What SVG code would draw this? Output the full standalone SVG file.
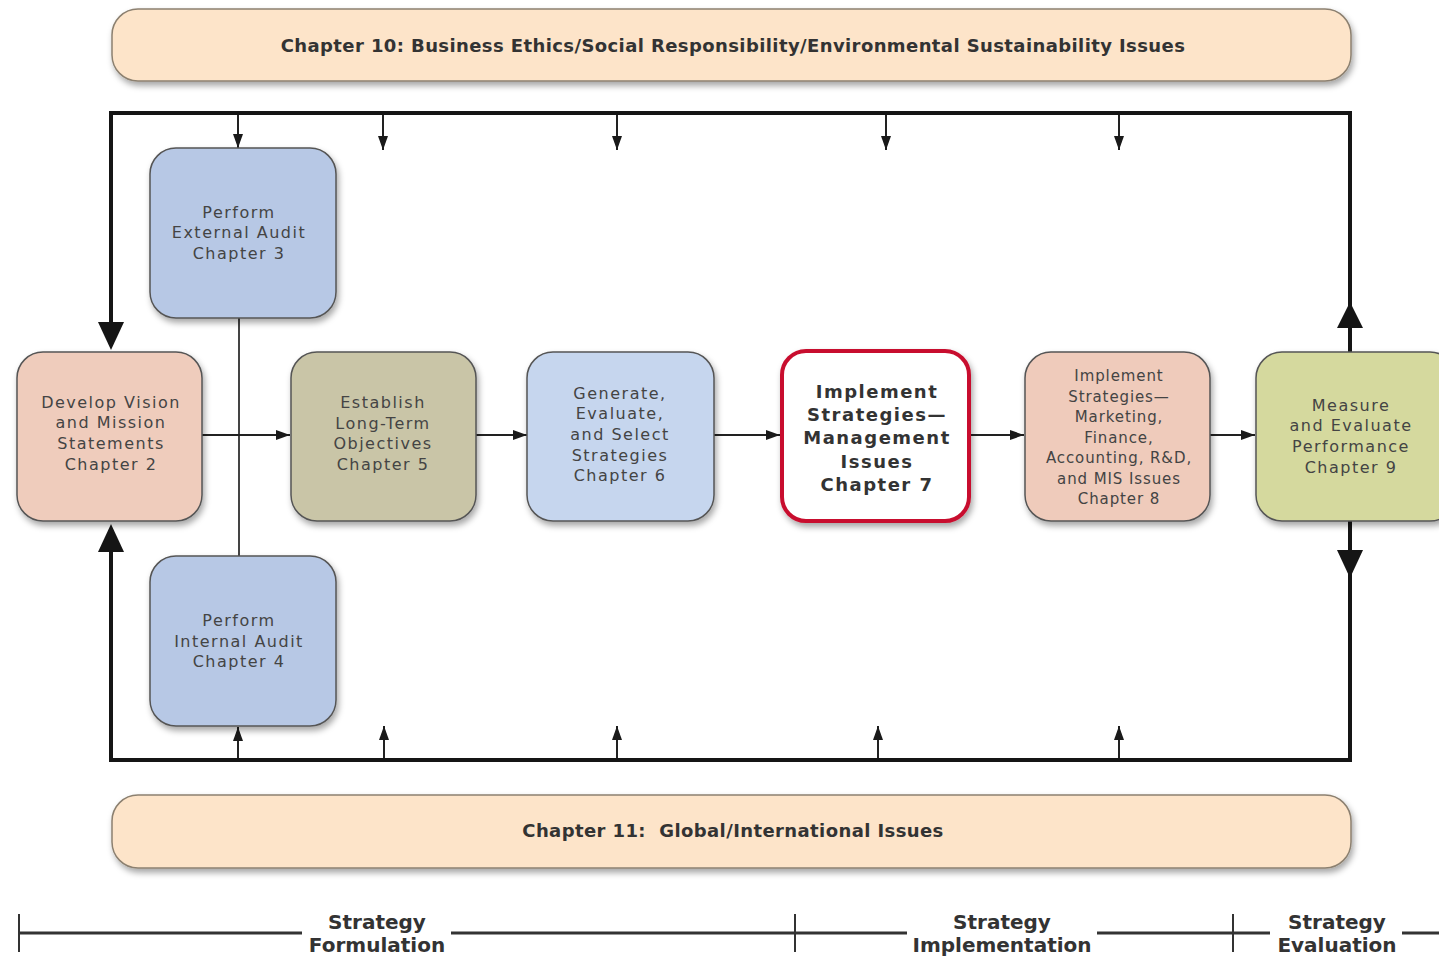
<svg xmlns="http://www.w3.org/2000/svg" width="1439" height="957" viewBox="0 0 1439 957">
<defs>
<filter id="sh" x="-10%" y="-10%" width="130%" height="140%">
<feDropShadow dx="2" dy="4" stdDeviation="3" flood-color="#000" flood-opacity="0.35"/>
</filter>
<marker id="ah" viewBox="0 0 14 10" refX="14" refY="5" markerWidth="14" markerHeight="10" markerUnits="userSpaceOnUse" orient="auto">
<path d="M0,0 L14,5 L0,10 z" fill="#1a1a1a"/>
</marker>
</defs>
<style>
.banner{fill:#FDE4C9;stroke:#8c8070;stroke-width:1.5;filter:url(#sh)}
.node{stroke:#555;stroke-width:1.5;filter:url(#sh)}
.bt{font-family:"DejaVu Sans",sans-serif;font-weight:bold;font-size:18px;fill:#333;text-anchor:middle;letter-spacing:0.4px}
.nt{font-family:"DejaVu Sans",sans-serif;font-size:16px;fill:#444;text-anchor:middle;letter-spacing:1.5px}
.mt{font-family:"DejaVu Sans",sans-serif;font-weight:bold;font-size:18px;fill:#333;text-anchor:middle;letter-spacing:1.5px}
.st{font-family:"DejaVu Sans",sans-serif;font-size:15px;fill:#444;text-anchor:middle;letter-spacing:0.9px}
.tl{font-family:"DejaVu Sans",sans-serif;font-weight:bold;font-size:20px;fill:#333;text-anchor:middle}
.frame{fill:none;stroke:#151515;stroke-width:4}
.thin{fill:none;stroke:#222;stroke-width:2;marker-end:url(#ah)}
.head{fill:#151515}
.axis{stroke:#333;stroke-width:3}
.tick{stroke:#333;stroke-width:2}
</style>

<g id="banner-top">
<rect class="banner" x="112" y="9" width="1239" height="72" rx="26"/>
<text class="bt" x="733" y="52">Chapter 10: Business Ethics/Social Responsibility/Environmental Sustainability Issues</text>
</g>

<g id="banner-bottom">
<rect class="banner" x="112" y="795" width="1239" height="73" rx="26"/>
<text class="bt" x="733" y="837" xml:space="preserve">Chapter 11:  Global/International Issues</text>
</g>

<g id="connectors">
<path class="frame" d="M111,326 V113 H1350 V352"/>
<path class="frame" d="M111,548 V760 H1350 V521"/>
<polygon class="head" points="98,322 124,322 111,350"/>
<polygon class="head" points="98,552 124,552 111,524"/>
<polygon class="head" points="1337,328 1363,328 1350,302"/>
<polygon class="head" points="1337,550 1363,550 1350,578"/>
<path class="thin" d="M238,115 V148"/>
<path class="thin" d="M383,115 V150"/>
<path class="thin" d="M617,115 V150"/>
<path class="thin" d="M886,115 V150"/>
<path class="thin" d="M1119,115 V150"/>
<path class="thin" d="M238,758 V727"/>
<path class="thin" d="M384,758 V726"/>
<path class="thin" d="M617,758 V726"/>
<path class="thin" d="M878,758 V726"/>
<path class="thin" d="M1119,758 V726"/>
<path d="M239,318 V556" fill="none" stroke="#444" stroke-width="2"/>
<path class="thin" d="M202,435 H290"/>
<path class="thin" d="M476,435 H527"/>
<path class="thin" d="M714,435 H780"/>
<path class="thin" d="M970,435 H1024"/>
<path class="thin" d="M1210,435 H1255"/>
</g>

<g id="n-external">
<rect class="node" x="150" y="148" width="186" height="170" rx="26" fill="#B7C8E5"/>
<text class="nt" x="239" y="218">Perform</text>
<text class="nt" x="239" y="238">External Audit</text>
<text class="nt" x="239" y="259">Chapter 3</text>
</g>

<g id="n-internal">
<rect class="node" x="150" y="556" width="186" height="170" rx="26" fill="#B7C8E5"/>
<text class="nt" x="239" y="626">Perform</text>
<text class="nt" x="239" y="647">Internal Audit</text>
<text class="nt" x="239" y="667">Chapter 4</text>
</g>

<g id="n-vision">
<rect class="node" x="17" y="352" width="185" height="169" rx="26" fill="#EFCCBC"/>
<text class="nt" x="111" y="408">Develop Vision</text>
<text class="nt" x="111" y="428">and Mission</text>
<text class="nt" x="111" y="449">Statements</text>
<text class="nt" x="111" y="470">Chapter 2</text>
</g>

<g id="n-objectives">
<rect class="node" x="291" y="352" width="185" height="169" rx="26" fill="#C9C5A7"/>
<text class="nt" x="383" y="408">Establish</text>
<text class="nt" x="383" y="429">Long-Term</text>
<text class="nt" x="383" y="449">Objectives</text>
<text class="nt" x="383" y="470">Chapter 5</text>
</g>

<g id="n-strategies">
<rect class="node" x="527" y="352" width="187" height="169" rx="26" fill="#C6D6EE"/>
<text class="nt" x="620" y="399">Generate,</text>
<text class="nt" x="620" y="419">Evaluate,</text>
<text class="nt" x="620" y="440">and Select</text>
<text class="nt" x="620" y="461">Strategies</text>
<text class="nt" x="620" y="481">Chapter 6</text>
</g>

<g id="n-management">
<rect x="782" y="351" width="187" height="170" rx="24" fill="#FFFFFF" stroke="#C8102E" stroke-width="4" filter="url(#sh)"/>
<text class="mt" x="877" y="398">Implement</text>
<text class="mt" x="877" y="421">Strategies—</text>
<text class="mt" x="877" y="444">Management</text>
<text class="mt" x="877" y="468">Issues</text>
<text class="mt" x="877" y="491">Chapter 7</text>
</g>

<g id="n-functional">
<rect class="node" x="1025" y="352" width="185" height="169" rx="26" fill="#EFCBBB"/>
<text class="st" x="1119" y="381">Implement</text>
<text class="st" x="1119" y="402">Strategies—</text>
<text class="st" x="1119" y="422">Marketing,</text>
<text class="st" x="1119" y="443">Finance,</text>
<text class="st" x="1119" y="463">Accounting, R&amp;D,</text>
<text class="st" x="1119" y="484">and MIS Issues</text>
<text class="st" x="1119" y="504">Chapter 8</text>
</g>

<g id="n-evaluate">
<rect class="node" x="1256" y="352" width="200" height="169" rx="26" fill="#D5D99E"/>
<text class="nt" x="1351" y="411">Measure</text>
<text class="nt" x="1351" y="431">and Evaluate</text>
<text class="nt" x="1351" y="452">Performance</text>
<text class="nt" x="1351" y="473">Chapter 9</text>
</g>

<g id="timeline">
<line class="axis" x1="19" y1="933" x2="302" y2="933"/>
<line class="axis" x1="451" y1="933" x2="795" y2="933"/>
<line class="axis" x1="795" y1="933" x2="907" y2="933"/>
<line class="axis" x1="1097" y1="933" x2="1233" y2="933"/>
<line class="axis" x1="1233" y1="933" x2="1270" y2="933"/>
<line class="axis" x1="1402" y1="933" x2="1439" y2="933"/>
<line class="tick" x1="19" y1="914" x2="19" y2="952"/>
<line class="tick" x1="795" y1="914" x2="795" y2="952"/>
<line class="tick" x1="1233" y1="914" x2="1233" y2="952"/>
<text class="tl" x="377" y="929">Strategy</text>
<text class="tl" x="377" y="952">Formulation</text>
<text class="tl" x="1002" y="929">Strategy</text>
<text class="tl" x="1002" y="952">Implementation</text>
<text class="tl" x="1337" y="929">Strategy</text>
<text class="tl" x="1337" y="952">Evaluation</text>
</g>
</svg>
